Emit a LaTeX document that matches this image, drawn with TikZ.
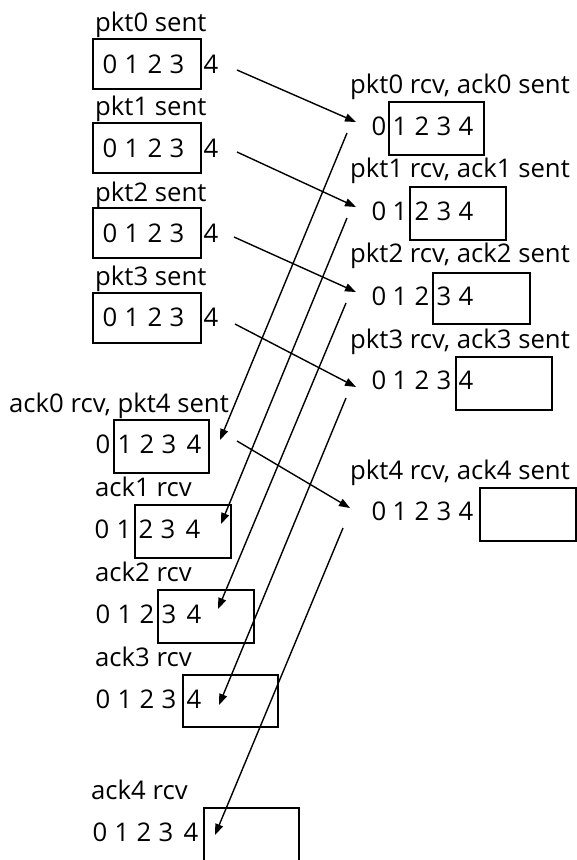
\documentclass[tikz,border=0pt]{standalone}
\usepackage{fontspec}
\setmainfont{Open Sans}
\usetikzlibrary{arrows.meta}
\begin{document}
\begin{tikzpicture}[x=1pt,y=-1pt,
  lbl/.style={anchor=base west,inner sep=0pt,font=\fontsize{25.7}{30}\selectfont},
  dig/.style={anchor=base,inner sep=0pt,font=\fontsize{25.7}{30}\selectfont},
  win/.style={draw,line width=1.8pt,inner sep=0pt,anchor=north west,minimum height=53pt},
  msg/.style={line width=1.4pt,-{Triangle[length=11pt,width=8pt]}}]
\useasboundingbox (0,0) rectangle (577,860);

% ---- sender: packets 0..3 sent, window 0-3 ----
\foreach \i/\yl/\yb/\yd in {0/31/38/73, 1/115/122/157, 2/201/207/242, 3/285/292/326} {
  \node[lbl] (s\i lab) at (95,\yl) {pkt\i\ sent};
  \node[win,minimum width=108pt,minimum height=50pt] (s\i win) at (92,\yb) {};
  \foreach \d/\x in {0/110,1/132,2/155,3/177,4/211}
    \node[dig] (s\i d\d) at (\x,\yd) {\d};
}

% ---- receiver ----
\node[lbl] (r0lab) at (350,93) {pkt0 rcv, ack0 sent};
\node[win,minimum width=95pt] (r0win) at (388,101) {};
\node[lbl] (r1lab) at (350,177) {pkt1 rcv, ack1 sent};
\node[win,minimum width=96pt] (r1win) at (409,186) {};
\node[lbl] (r2lab) at (350,262) {pkt2 rcv, ack2 sent};
\node[win,minimum width=97pt,minimum height=51pt] (r2win) at (432,272) {};
\node[lbl] (r3lab) at (350,348) {pkt3 rcv, ack3 sent};
\node[win,minimum width=96pt] (r3win) at (455,356) {};
\node[lbl] (r4lab) at (350,479) {pkt4 rcv, ack4 sent};
\node[win,minimum width=96pt] (r4win) at (479,487) {};
\foreach \i/\yd in {0/135, 1/220, 2/305, 3/389, 4/520}
  \foreach \d/\x in {0/379,1/400,2/422,3/444,4/466}
    \node[dig] (r\i d\d) at (\x,\yd) {\d};

% ---- sender: acks received, window slides ----
\node[lbl] (a0lab) at (9,412) {ack0 rcv, pkt4 sent};
\node[win,minimum width=95pt] (a0win) at (113,419) {};
\node[lbl] (a1lab) at (95,496) {ack1 rcv};
\node[win,minimum width=96pt] (a1win) at (134,504) {};
\node[lbl] (a2lab) at (95,581) {ack2 rcv};
\node[win,minimum width=96pt] (a2win) at (157,589) {};
\node[lbl] (a3lab) at (95,666) {ack3 rcv};
\node[win,minimum width=95pt,minimum height=52pt] (a3win) at (182,674) {};
\node[lbl] (a4lab) at (91,799) {ack4 rcv};
\coordinate (a4bl) at (204,862);
\coordinate (a4br) at (299,862);
\draw[line width=1.8pt] (a4bl) |- (299,808) -- (a4br);
\foreach \i/\yd/\o in {0/453/0, 1/538/-1, 2/623/0, 3/708/0, 4/841/-3}
  \foreach \d/\x in {0/103,1/125,2/147,3/169,4/194}
    \node[dig] (a\i d\d) at (\x+\o,\yd) {\d};

% ---- message end points ----
\coordinate (p0s) at (237,70);  \coordinate (p0e) at (356,122);
\coordinate (p1s) at (237,152); \coordinate (p1e) at (356,207);
\coordinate (p2s) at (234,237); \coordinate (p2e) at (356,292);
\coordinate (p3s) at (235,324); \coordinate (p3e) at (356,387);
\coordinate (p4s) at (237,441); \coordinate (p4e) at (350,508);

\coordinate (k0s) at (347,133); \coordinate (k0e) at (220,440);
\coordinate (k1s) at (347,218); \coordinate (k1e) at (221,524);
\coordinate (k2s) at (346,303); \coordinate (k2e) at (218,609);
\coordinate (k3s) at (346,398); \coordinate (k3e) at (219,705);
\coordinate (k4s) at (343,528); \coordinate (k4e) at (215,835);

% packets
\draw[msg] (p0s) -- (p0e);
\draw[msg] (p1s) -- (p1e);
\draw[msg] (p2s) -- (p2e);
\draw[msg] (p3s) -- (p3e);
\draw[msg] (p4s) -- (p4e);
% acks
\draw[msg] (k0s) -- (k0e);
\draw[msg] (k1s) -- (k1e);
\draw[msg] (k2s) -- (k2e);
\draw[msg] (k3s) -- (k3e);
\draw[msg] (k4s) -- (k4e);
\end{tikzpicture}
\end{document}
